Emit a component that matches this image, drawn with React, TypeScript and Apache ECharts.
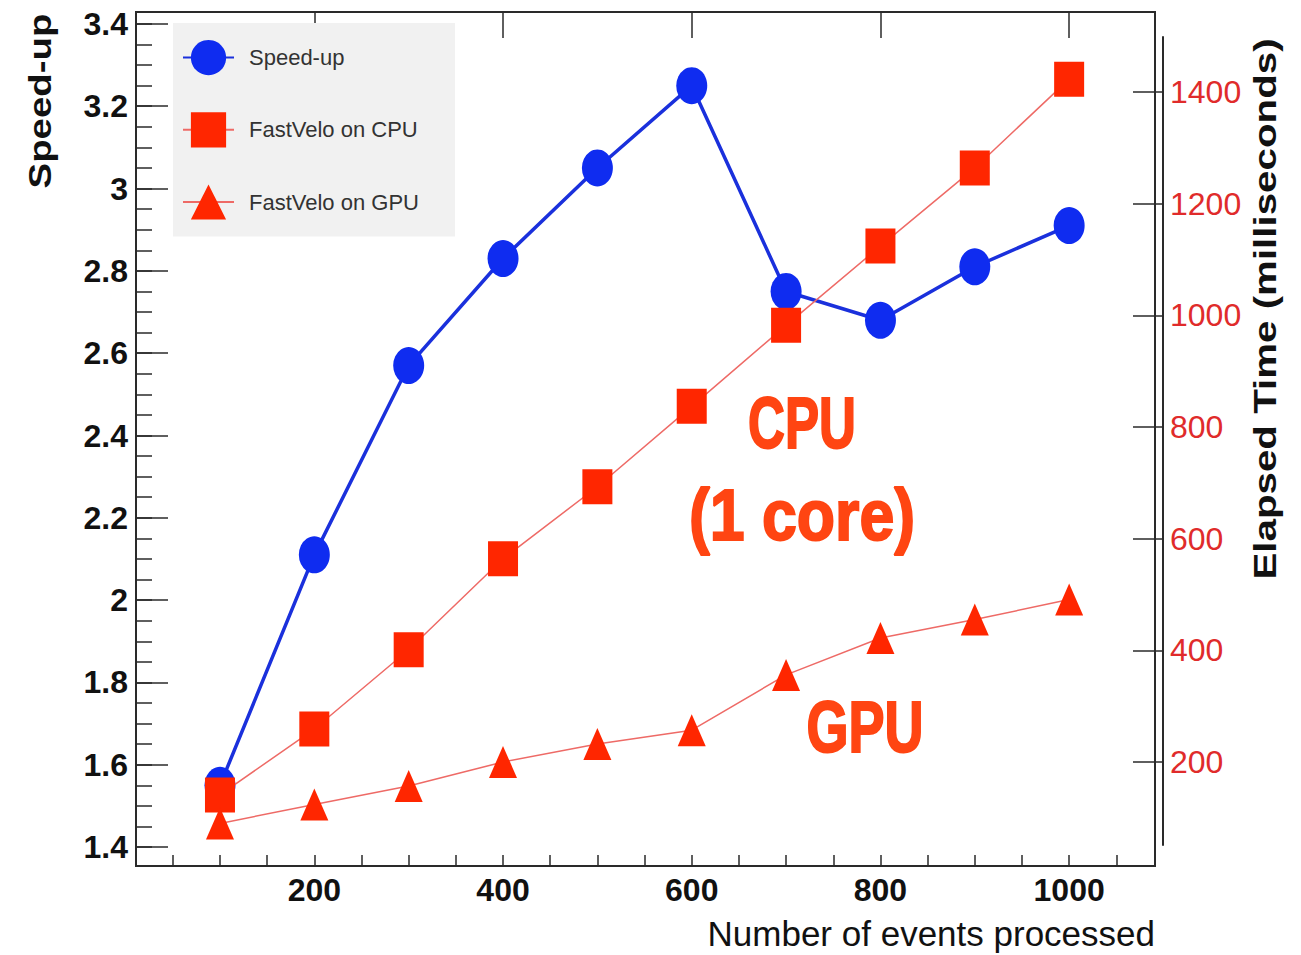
import React, { useEffect, useRef } from "react";
import * as echarts from "echarts";

const events = [100, 200, 300, 400, 500, 600, 700, 800, 900, 1000];
const speedUp = [1.55, 2.11, 2.57, 2.83, 3.05, 3.25, 2.75, 2.68, 2.81, 2.91];
const cpuTime = [141, 259, 401, 564, 693, 837, 982, 1124, 1264, 1423];
const gpuTime = [90, 124, 157, 200, 232, 257, 356, 422, 455, 491];

const xLabels = [200, 400, 600, 800, 1000];
const xMinorTicks = [50, 100, 150, 200, 250, 300, 350, 400, 450, 500, 550, 600, 650, 700, 750, 800, 850, 900, 950, 1000, 1050];
const leftLabels = [1.4, 1.6, 1.8, 2, 2.2, 2.4, 2.6, 2.8, 3, 3.2, 3.4];
const leftMinorTicks = [
  1.4, 1.45, 1.5, 1.55, 1.6, 1.65, 1.7, 1.75, 1.8, 1.85, 1.9, 1.95, 2, 2.05, 2.1, 2.15, 2.2, 2.25, 2.3, 2.35,
  2.4, 2.45, 2.5, 2.55, 2.6, 2.65, 2.7, 2.75, 2.8, 2.85, 2.9, 2.95, 3, 3.05, 3.1, 3.15, 3.2, 3.25, 3.3, 3.35, 3.4,
];
const rightLabels = [200, 400, 600, 800, 1000, 1200, 1400];

const FONT = "'Liberation Sans', Arial, Helvetica, sans-serif";
const plain = (v: number) => String(Number(v.toFixed(1)));

export default function App() {
  const ref = useRef<HTMLDivElement>(null);

  useEffect(() => {
    if (!ref.current) return;
    const chart = echarts.init(ref.current, undefined, { renderer: "svg" });
    const axisColor = "#2a2a2a";
    const option: any = {
      animation: false,
      backgroundColor: "#ffffff",
      textStyle: { fontFamily: FONT },
      grid: [
        { left: 136, right: 146, top: 12, bottom: 89, show: true, borderColor: axisColor, borderWidth: 2, backgroundColor: "transparent" },
        { left: 136, right: 146, top: 37, bottom: 110, show: false },
      ],
      legend: {
        orient: "vertical",
        left: 173,
        top: 23,
        padding: [17, 36, 17, 9],
        backgroundColor: "#f1f1f1",
        itemWidth: 51,
        itemHeight: 44,
        itemGap: 37,
        data: ["Speed-up", "FastVelo on CPU", "FastVelo on GPU"],
        textStyle: { fontSize: 22, color: "#333333", fontFamily: FONT, padding: [0, 0, 0, 10] },
      },
      xAxis: [
        {
          type: "value",
          gridIndex: 0,
          min: 11,
          max: 1091,
          axisLine: { show: true, lineStyle: { color: axisColor, width: 2 } },
          axisTick: { show: true, inside: true, length: 11, customValues: xMinorTicks, lineStyle: { color: axisColor, width: 1.5 } },
          axisLabel: { customValues: xLabels, fontSize: 32, fontWeight: "bold", color: "#111111", margin: 8, fontFamily: FONT, formatter: plain },
          splitLine: { show: false },
        },
        {
          type: "value",
          gridIndex: 0,
          min: 11,
          max: 1091,
          axisLine: { show: false },
          axisTick: { show: true, inside: true, length: 26, customValues: xLabels, lineStyle: { color: axisColor, width: 1.5 } },
          axisLabel: { show: false },
          splitLine: { show: false },
        },
        {
          type: "value",
          gridIndex: 1,
          min: 11,
          max: 1091,
          show: false,
        },
      ],
      yAxis: [
        {
          type: "value",
          gridIndex: 0,
          position: "left",
          min: 1.354,
          max: 3.429,
          axisLine: { show: true, lineStyle: { color: axisColor, width: 2 } },
          axisTick: { show: true, inside: true, length: 32, customValues: leftLabels, lineStyle: { color: axisColor, width: 1.5 } },
          axisLabel: {
            customValues: leftLabels,
            fontSize: 32,
            fontWeight: "bold",
            color: "#111111",
            margin: 8,
            fontFamily: FONT,
            formatter: plain,
          },
          splitLine: { show: false },
        },
        {
          type: "value",
          gridIndex: 0,
          position: "left",
          min: 1.354,
          max: 3.429,
          axisLine: { show: false },
          axisTick: { show: true, inside: true, length: 16, customValues: leftMinorTicks, lineStyle: { color: axisColor, width: 1.5 } },
          axisLabel: { show: false },
          splitLine: { show: false },
        },
        {
          type: "value",
          gridIndex: 1,
          position: "right",
          offset: 8,
          min: 51.3,
          max: 1498.5,
          axisLine: { show: true, lineStyle: { color: axisColor, width: 2 } },
          axisTick: { show: true, inside: true, length: 30, customValues: rightLabels, lineStyle: { color: axisColor, width: 1.5 } },
          axisLabel: { customValues: rightLabels, fontSize: 32, color: "#e02b2b", margin: 7, fontFamily: FONT, formatter: plain },
          splitLine: { show: false },
        },
      ],
      series: [
        {
          name: "Speed-up",
          type: "line",
          xAxisIndex: 0,
          yAxisIndex: 0,
          data: events.map((e, i) => [e, speedUp[i]]),
          symbol: "circle",
          symbolSize: [31, 37],
          itemStyle: { color: "#0f2cf0" },
          lineStyle: { color: "#1a30dc", width: 3.5 },
          z: 2,
          clip: false,
        },
        {
          name: "FastVelo on CPU",
          type: "line",
          xAxisIndex: 2,
          yAxisIndex: 2,
          data: events.map((e, i) => [e, cpuTime[i]]),
          symbol: "rect",
          symbolSize: [30, 35],
          itemStyle: { color: "#ff2600" },
          lineStyle: { color: "#ee6a66", width: 1.5 },
          z: 3,
          clip: false,
        },
        {
          name: "FastVelo on GPU",
          type: "line",
          xAxisIndex: 2,
          yAxisIndex: 2,
          data: events.map((e, i) => [e, gpuTime[i]]),
          symbol: "triangle",
          symbolSize: [28, 32],
          itemStyle: { color: "#ff2600" },
          lineStyle: { color: "#ee6a66", width: 1.5 },
          z: 3,
          clip: false,
        },
      ],
      graphic: [
        {
          type: "text",
          x: 40,
          y: 101,
          rotation: Math.PI / 2,
          scaleX: 1.2,
          style: { text: "Speed-up", font: `bold 32px ${FONT}`, fill: "#111111", textAlign: "center", textVerticalAlign: "middle" },
        },
        {
          type: "text",
          x: 1265,
          y: 309,
          rotation: Math.PI / 2,
          scaleX: 1.26,
          style: { text: "Elapsed Time (milliseconds)", font: `bold 32px ${FONT}`, fill: "#111111", textAlign: "center", textVerticalAlign: "middle" },
        },
        {
          type: "text",
          x: 1155,
          y: 933,
          style: { text: "Number of events processed", font: `35px ${FONT}`, fill: "#111111", textAlign: "right", textVerticalAlign: "middle" },
        },
        {
          type: "text",
          x: 802,
          y: 423,
          scaleX: 0.71,
          style: { text: "CPU", font: `bold 72px ${FONT}`, fill: "#ff4512", stroke: "#ff4512", lineWidth: 2, textAlign: "center", textVerticalAlign: "middle" },
        },
        {
          type: "text",
          x: 802,
          y: 515,
          scaleX: 0.87,
          style: { text: "(1 core)", font: `bold 72px ${FONT}`, fill: "#ff4512", stroke: "#ff4512", lineWidth: 2, textAlign: "center", textVerticalAlign: "middle" },
        },
        {
          type: "text",
          x: 865,
          y: 727,
          scaleX: 0.75,
          style: { text: "GPU", font: `bold 72px ${FONT}`, fill: "#ff4512", stroke: "#ff4512", lineWidth: 2, textAlign: "center", textVerticalAlign: "middle" },
        },
      ],
    };
    chart.setOption(option);
    return () => chart.dispose();
  }, []);

  return <div ref={ref} style={{ position: "absolute", left: 0, top: 0, width: 1301, height: 955 }} />;
}
